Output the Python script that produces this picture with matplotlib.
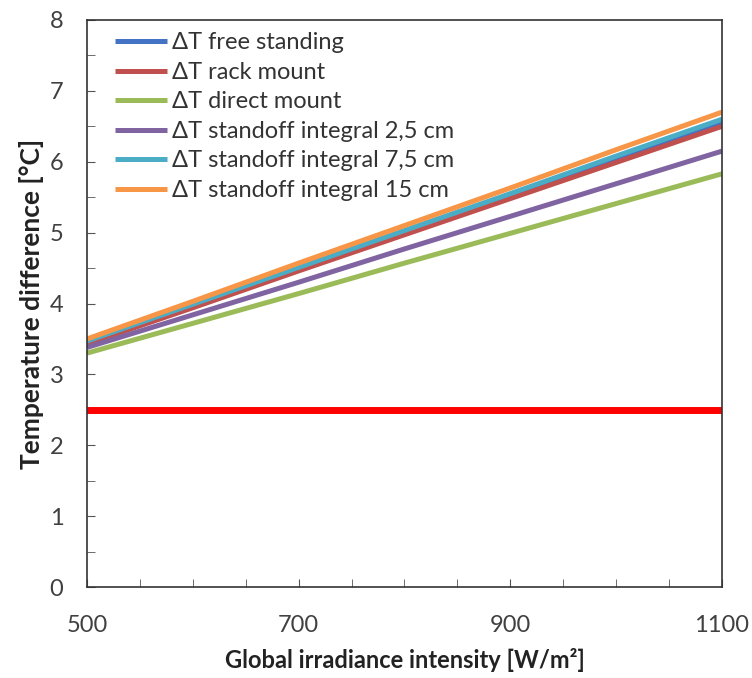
import matplotlib
matplotlib.use("Agg")
import matplotlib.pyplot as plt
import numpy as np

plt.rcParams['font.family'] = ['Lato', 'DejaVu Sans']

irradiance = [500, 600, 700, 800, 900, 1000, 1100]
dt_free_standing = [3.45, 3.97, 4.48, 5.00, 5.52, 6.03, 6.55]
dt_rack_mount = [3.43, 3.94, 4.46, 4.97, 5.48, 5.99, 6.50]
dt_direct_mount = [3.30, 3.72, 4.14, 4.57, 4.99, 5.41, 5.83]
dt_standoff_25 = [3.38, 3.84, 4.30, 4.77, 5.23, 5.69, 6.15]
dt_standoff_75 = [3.47, 3.99, 4.51, 5.03, 5.55, 6.08, 6.60]
dt_standoff_15 = [3.50, 4.03, 4.57, 5.10, 5.63, 6.17, 6.70]
reference_level = 2.5

series = [
    ("ΔT free standing", dt_free_standing, "#4472C4"),
    ("ΔT rack mount", dt_rack_mount, "#C0504D"),
    ("ΔT direct mount", dt_direct_mount, "#9BBB59"),
    ("ΔT standoff integral 2,5 cm", dt_standoff_25, "#8064A2"),
    ("ΔT standoff integral 7,5 cm", dt_standoff_75, "#4BACC6"),
    ("ΔT standoff integral 15 cm", dt_standoff_15, "#F79646"),
]

fig = plt.figure(figsize=(7.52, 6.78), dpi=100)
ax = fig.add_axes([87/752, 1-587/678, (722-87)/752, (587-20)/678])

for label, vals, color in series:
    ax.plot(irradiance, vals, color=color, lw=3.6, label=label, solid_capstyle='butt')

ax.axhline(reference_level, color="#FF0000", lw=5)

ax.set_xlim(500, 1100)
ax.set_ylim(0, 8)
ax.set_xticks([500, 700, 900, 1100])
ax.set_xticks(np.arange(500, 1101, 50), minor=True)
ax.set_yticks(np.arange(0, 9, 1))
ax.set_yticks(np.arange(0, 8.01, 0.5), minor=True)
ax.tick_params(axis='both', which='both', direction='in', color='#555555')
ax.tick_params(axis='both', which='major', length=6, labelsize=17, labelcolor='#404040')
ax.tick_params(axis='both', which='minor', length=6)
ax.tick_params(axis='x', which='major', pad=20)
ax.tick_params(axis='y', which='major', pad=17)
for s in ax.spines.values():
    s.set_color('#333333')
    s.set_linewidth(1.2)

ax.set_xlabel("Global irradiance intensity [W/m²]", fontsize=17, fontweight='bold', color='#222222', labelpad=9)
ax.set_ylabel("Temperature difference [°C]", fontsize=19, fontweight='bold', color='#222222', labelpad=4)

leg = ax.legend(loc='upper left', frameon=False, fontsize=17, handlelength=2.2,
                handletextpad=0.2, labelspacing=0.36, borderaxespad=0.0,
                bbox_to_anchor=(0.03, 0.995))
for t in leg.get_texts():
    t.set_color('#333333')

fig.savefig("out.png", dpi=100)
